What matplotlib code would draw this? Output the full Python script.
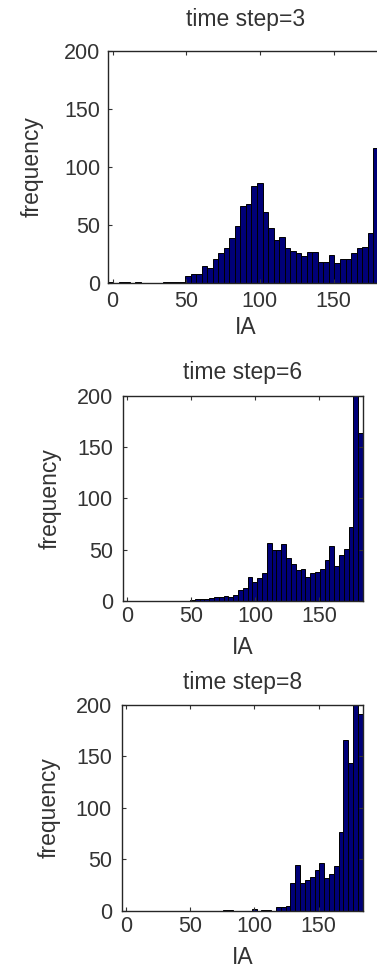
import numpy as np
import matplotlib
matplotlib.use('Agg')
import matplotlib.pyplot as plt

plt.rcParams['font.family'] = ['Liberation Sans', 'DejaVu Sans']

# histogram bins (IA), 50 bins spanning the x range
bin_lo = -3.4
bin_hi = 184.4
n_bins = 50

time_steps = [3, 6, 8]

counts_t3 = [1, 0, 1, 1, 0, 1, 0, 0, 0, 0,
             1, 1, 1, 1, 6, 8, 8, 15, 13, 21,
             26, 30, 39, 49, 66, 68, 84, 86, 61, 47,
             37, 40, 30, 28, 26, 23, 27, 27, 18, 18,
             24, 17, 21, 21, 26, 30, 31, 43, 116, 150]

counts_t6 = [0, 0, 0, 0, 0, 0, 0, 0, 0, 0,
             0, 0, 0, 0, 1, 2, 2, 2, 3, 4,
             4, 5, 4, 6, 10, 12, 23, 18, 22, 27,
             56, 50, 50, 55, 42, 36, 30, 31, 23, 27,
             28, 31, 40, 53, 34, 45, 51, 72, 235, 164]

counts_t8 = [0, 0, 0, 0, 0, 0, 0, 0, 0, 0,
             0, 0, 0, 0, 0, 0, 0, 0, 0, 0,
             0, 1, 1, 0, 0, 0, 0, 2, 0, 1,
             1, 0, 4, 4, 5, 27, 44, 27, 30, 33,
             40, 46, 32, 36, 43, 77, 166, 144, 230, 191]

x_ticks = [0, 50, 100, 150]
y_ticks = [0, 50, 100, 150, 200]


def plot_hist(ax, counts, step, title_pad, tick_pad_x, tick_pad_y, xlab_pad, ylab_pad):
    edges = np.linspace(bin_lo, bin_hi, n_bins + 1)
    ax.bar(edges[:-1], counts, width=np.diff(edges), align='edge',
           color='#000078', edgecolor='black', linewidth=0.7)
    ax.set_xlim(bin_lo, bin_hi)
    ax.set_ylim(0, 200)
    ax.set_xticks(x_ticks)
    ax.set_yticks(y_ticks)
    ax.tick_params(direction='in', length=3, width=0.8, top=True, right=True,
                   labelsize=15.5, colors='#333333')
    ax.tick_params(axis='x', pad=tick_pad_x)
    ax.tick_params(axis='y', pad=tick_pad_y)
    for s in ax.spines.values():
        s.set_linewidth(1.0)
        s.set_color('#262626')
    ax.set_title('time step=%d' % step, fontsize=16.5, pad=title_pad, color='#333333')
    ax.set_xlabel('IA', fontsize=16.5, labelpad=xlab_pad, color='#333333')
    ax.set_ylabel('frequency', fontsize=16.5, labelpad=ylab_pad, color='#333333')


fig = plt.figure(figsize=(3.77, 9.71), dpi=100)
W, H = 377.0, 971.0

# axes boxes in pixels: left, right, top, bottom
boxes = [(107.5, 384.3, 51, 283),
         (122.7, 363.0, 396, 600.7),
         (121.7, 362.7, 705, 910.7)]

ax1 = fig.add_axes([boxes[0][0] / W, 1 - boxes[0][3] / H,
                    (boxes[0][1] - boxes[0][0]) / W, (boxes[0][3] - boxes[0][2]) / H])
ax2 = fig.add_axes([boxes[1][0] / W, 1 - boxes[1][3] / H,
                    (boxes[1][1] - boxes[1][0]) / W, (boxes[1][3] - boxes[1][2]) / H])
ax3 = fig.add_axes([boxes[2][0] / W, 1 - boxes[2][3] / H,
                    (boxes[2][1] - boxes[2][0]) / W, (boxes[2][3] - boxes[2][2]) / H])

plot_hist(ax1, counts_t3, time_steps[0], 18, 6, 5, 3, 15)
plot_hist(ax2, counts_t6, time_steps[1], 12, 4, 7, 6, 11)
plot_hist(ax3, counts_t8, time_steps[2], 11.5, 4, 7, 6, 11)

fig.savefig('out.png', dpi=100, facecolor='white')
